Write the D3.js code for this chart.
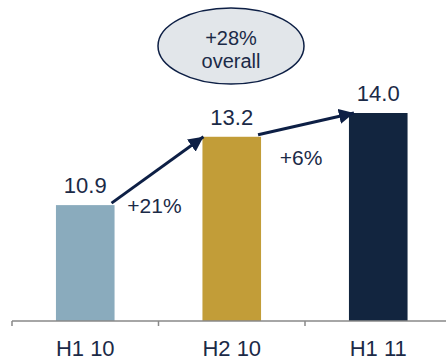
<html>
<head>
<meta charset="utf8">
<style>
  body { margin: 0; background: #fff; }
  text { font-family: "Liberation Sans", Arial, sans-serif; fill: #1b2a47; }
</style>
</head>
<body>
<svg width="446" height="361"></svg>
<script src="https://d3js.org/d3.v7.min.js"></script>
<script>
var categories = ["H1 10", "H2 10", "H1 11"];
var values = [10.9, 13.2, 14.0];
var colors = ["#8aabbd", "#c29d38", "#12253f"];
var growthLabels = ["+21%", "+6%"];
var overallLabel = ["+28%", "overall"];

var svg = d3.select("svg");

var x = d3.scaleBand()
    .domain(categories)
    .range([12, 451.5])
    .paddingInner(0.6)
    .paddingOuter(0.3);

var y = d3.scaleLinear()
    .domain([7, 14])
    .range([321, 113]);

// arrowhead
svg.append("defs").append("marker")
    .attr("id", "head")
    .attr("viewBox", "0 0 10 10")
    .attr("refX", 10).attr("refY", 5)
    .attr("markerWidth", 5).attr("markerHeight", 5)
    .attr("markerUnits", "strokeWidth")
    .attr("orient", "auto")
  .append("path")
    .attr("d", "M0,0 L10,5 L0,10 z")
    .attr("fill", "#0d1f45");

// bars
svg.append("g").selectAll("rect")
    .data(values)
    .enter().append("rect")
    .attr("x", (d, i) => x(categories[i]))
    .attr("y", d => y(d))
    .attr("width", x.bandwidth())
    .attr("height", d => y.range()[0] - y(d))
    .attr("fill", (d, i) => colors[i]);

// value labels
svg.append("g").selectAll("text")
    .data(values)
    .enter().append("text")
    .attr("x", (d, i) => x(categories[i]) + x.bandwidth() / 2)
    .attr("y", d => y(d) - 12)
    .attr("text-anchor", "middle")
    .style("font-size", "22px")
    .text(d => d.toFixed(1));

// x axis
var xAxis = d3.axisBottom(x)
    .tickSize(0)
    .tickPadding(0)
    .tickFormat("");
var axisG = svg.append("g")
    .attr("transform", "translate(0," + y.range()[0] + ")")
    .call(xAxis);
axisG.select(".domain").remove();
axisG.append("line")
    .attr("x1", 12).attr("x2", 446)
    .attr("stroke", "#888").attr("stroke-width", 1.5);
var step = x.step();
axisG.selectAll(".sep")
    .data(d3.range(categories.length + 1))
    .enter().append("line")
    .attr("x1", i => x.range()[0] + i * step)
    .attr("x2", i => x.range()[0] + i * step)
    .attr("y1", 0).attr("y2", 5)
    .attr("stroke", "#888").attr("stroke-width", 1.5);

svg.append("g").selectAll("text")
    .data(categories)
    .enter().append("text")
    .attr("x", d => x(d) + x.bandwidth() / 2)
    .attr("y", 356)
    .attr("text-anchor", "middle")
    .style("font-size", "22px")
    .text(d => d);

// growth arrows
var pairs = d3.range(values.length - 1);
svg.append("g").selectAll("line")
    .data(pairs)
    .enter().append("line")
    .attr("x1", i => x(categories[i]) + x.bandwidth() - 3)
    .attr("y1", i => y(values[i]) - 2)
    .attr("x2", i => x(categories[i + 1]) + (i === 0 ? 1 : 5))
    .attr("y2", i => y(values[i + 1]))
    .attr("stroke", "#0d1f45")
    .attr("stroke-width", 3)
    .attr("marker-end", "url(#head)");

var labelDy = [8, 28];
svg.append("g").selectAll("text")
    .data(growthLabels)
    .enter().append("text")
    .attr("x", (d, i) => (x(categories[i]) + x.bandwidth() + x(categories[i + 1])) / 2 - 4)
    .attr("y", (d, i) => y(values[i]) + labelDy[i])
    .attr("text-anchor", "middle")
    .style("font-size", "21px")
    .text(d => d);

// overall bubble
var bub = svg.append("g").attr("transform", "translate(231,46)");
bub.append("ellipse")
    .attr("rx", 73).attr("ry", 38)
    .attr("fill", "#e2e6ea")
    .attr("stroke", "#0d1f45")
    .attr("stroke-width", 1.5);
bub.selectAll("text")
    .data(overallLabel)
    .enter().append("text")
    .attr("x", 0)
    .attr("y", (d, i) => -1 + i * 23)
    .attr("text-anchor", "middle")
    .style("font-size", "20px")
    .text(d => d);
</script>
</body>
</html>
